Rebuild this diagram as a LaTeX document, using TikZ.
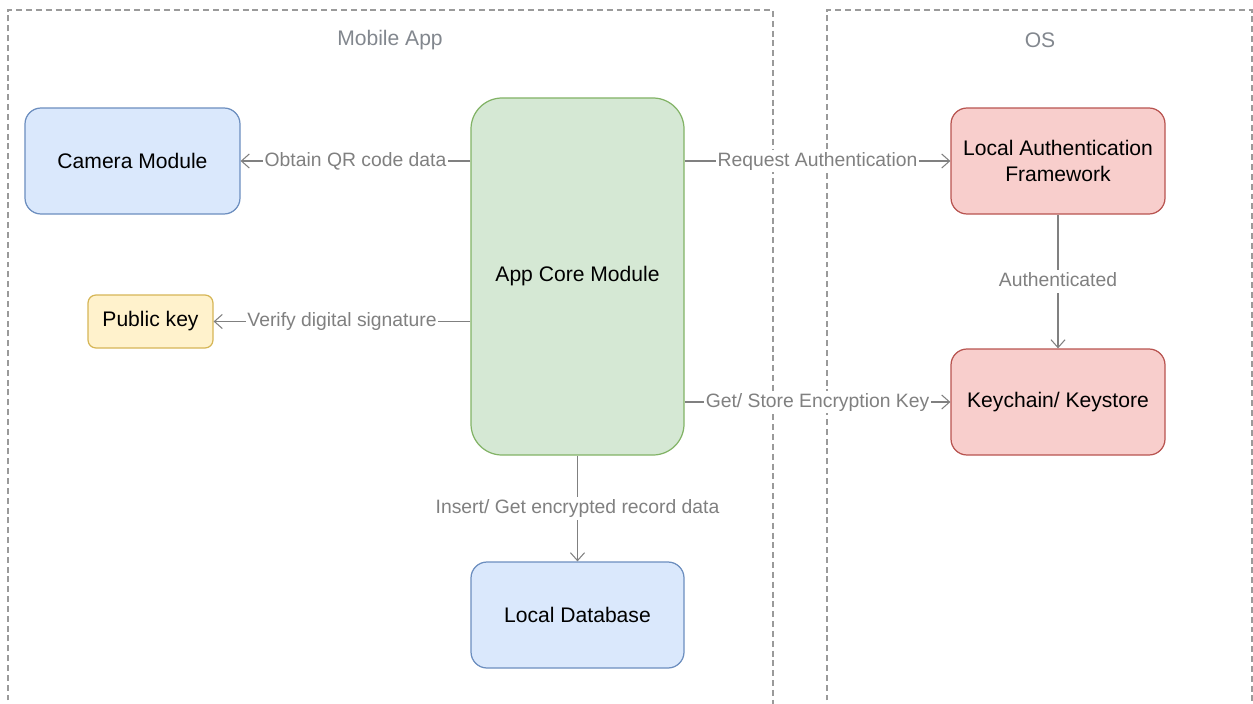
\documentclass[tikz,border=0pt]{standalone}
\usepackage{fontspec}
\setmainfont{Liberation Sans}
\usetikzlibrary{arrows.meta, positioning, calc}
\usepackage{xcolor}
\definecolor{appblue}{RGB}{218, 232, 252}
\definecolor{appblueline}{RGB}{108, 142, 191}
\definecolor{appgreen}{RGB}{213, 232, 212}
\definecolor{appgreenline}{RGB}{130, 179, 102}
\definecolor{appyellow}{RGB}{255, 242, 204}
\definecolor{appyellowline}{RGB}{214, 182, 86}
\definecolor{apppink}{RGB}{248, 206, 204}
\definecolor{apppinkline}{RGB}{184, 84, 80}
\definecolor{appgray}{RGB}{128, 128, 128}
\definecolor{apptitle}{RGB}{130, 135, 142}
\tikzstyle{module} = [rectangle, rounded corners=0.32cm, minimum width=4.3cm, minimum height=2.12cm,
                      align=center, line width=0.7pt, font=\fontsize{12}{15}\selectfont]
\tikzstyle{bluemod} = [module, draw=appblueline, fill=appblue]
\tikzstyle{pinkmod} = [module, draw=apppinkline, fill=apppink]
\tikzstyle{group} = [appgray!80, line width=0.6pt, dash pattern=on 3.4pt off 2.2pt]
\tikzstyle{grouptitle} = [apptitle, font=\fontsize{12}{15}\selectfont]
\tikzstyle{arrow} = [-{Straight Barb[length=4.5pt, width=8pt]}, appgray, line width=0.6pt]
\tikzstyle{edgelabel} = [midway, fill=white, inner sep=1pt, text=appgray, text height=1.6ex,
                         text depth=0.45ex, font=\fontsize{11}{13}\selectfont]

\begin{document}
\begin{tikzpicture}

\useasboundingbox (0, 0) rectangle (25.06, -14.06);
\clip (0, 0) rectangle (25.06, -14.06);

% Container boxes
\draw[group] (0.16, -14.6) |- (15.46, -0.20) -- (15.46, -14.6);
\draw[group] (16.54, -14.6) |- (25.04, -0.20) -- (25.04, -14.6);

% Labels
\node[grouptitle] (apptitle) at (7.80, -0.80) {Mobile App};
\node[grouptitle] (ostitle) at (20.80, -0.80) {OS};

% Mobile app modules
\node[bluemod] (camera) at (2.65, -3.22) {Camera Module};
\node[module, draw=appyellowline, fill=appyellow, minimum width=2.5cm, minimum height=1.06cm,
      rounded corners=0.16cm] (pubkey) at (3.01, -6.43) {Public key};
\node[module, draw=appgreenline, fill=appgreen, minimum width=4.26cm, minimum height=7.14cm,
      rounded corners=0.62cm] (core) at (11.55, -5.53) {App Core Module};
\node[bluemod, minimum width=4.26cm] (db) at (11.55, -12.30) {Local Database};

% OS modules
\node[pinkmod, minimum width=4.28cm] (laf) at (21.16, -3.22) {Local Authentication\\Framework};
\node[pinkmod, minimum width=4.28cm] (keychain) at (21.16, -8.04) {Keychain/ Keystore};

% Arrows
\draw[arrow] (core.west |- camera) -- (camera.east) node[edgelabel] {Obtain QR code data};
\draw[arrow] (core.west |- pubkey) -- (pubkey.east) node[edgelabel] {Verify digital signature};
\draw[arrow] (core.east |- laf) -- (laf.west) node[edgelabel] {Request Authentication};
\draw[arrow] (core.east |- keychain) -- (keychain.west) node[edgelabel] {Get/ Store Encryption Key};
\draw[arrow] (core.south) -- (db.north) node[edgelabel] {Insert/ Get encrypted record data};
\draw[arrow] (laf.south) -- (keychain.north) node[edgelabel] {Authenticated};

\end{tikzpicture}
\end{document}
